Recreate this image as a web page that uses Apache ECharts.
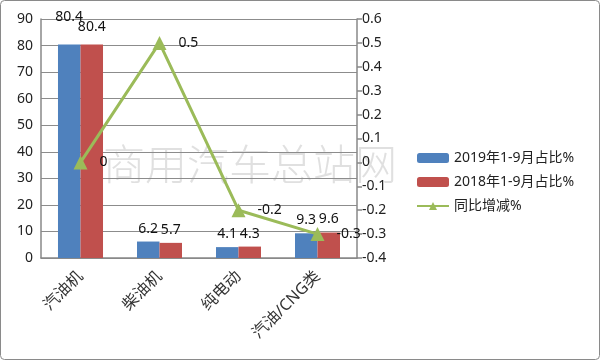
<!DOCTYPE html>
<html><head><meta charset="utf-8">
<script src="https://cdn.jsdelivr.net/npm/echarts@6/dist/echarts.min.js"></script>
<style>html,body{margin:0;padding:0;background:#fff}#c{width:600px;height:360px}</style>
</head><body><div id="c"></div>
<script>
const categories = ['汽油机', '柴油机', '纯电动', '汽油/CNG类'];
const share2019 = [80.4, 6.2, 4.1, 9.3];
const share2018 = [80.4, 5.7, 4.3, 9.6];
const yoyChange = [0, 0.5, -0.2, -0.3];
const seriesNames = ['2019年1-9月占比%', '2018年1-9月占比%', '同比增减%'];

const FONT = '"Noto Sans", "Noto Sans CJK SC", sans-serif';
const chart = echarts.init(document.getElementById('c'));
chart.setOption({
  animation: false,
  textStyle: { fontFamily: FONT },
  graphic: [
    { type: 'rect', shape: { x: 0.5, y: 0.5, width: 599, height: 359, r: 4 }, style: { fill: 'none', stroke: '#8a8a8a', lineWidth: 1 }, z: 100 },
    { type: 'text', left: 103, top: 143, z: 0, style: { text: '商用汽车总站网', font: '200 42px "Noto Sans CJK SC"', fill: '#e0e0e0' } }
  ],
  legend: {
    orient: 'vertical', left: 411, top: 146, itemWidth: 32, itemHeight: 10, itemGap: 10,
    textStyle: { fontSize: 14, color: '#222', fontFamily: FONT },
    data: seriesNames
  },
  grid: { left: 41, right: 243, top: 19, bottom: 102 },
  xAxis: {
    type: 'category', data: categories,
    axisLine: { lineStyle: { color: '#888', width: 1.5 } },
    axisTick: { length: 6, lineStyle: { color: '#888', width: 1.5 } },
    axisLabel: { rotate: 45, fontSize: 16, color: '#333', margin: 16, fontFamily: FONT }
  },
  yAxis: [
    {
      type: 'value', min: 0, max: 90, interval: 10,
      axisLine: { show: true, lineStyle: { color: '#888', width: 1.5 } },
      axisTick: { show: false },
      axisLabel: { fontSize: 14, color: '#222', margin: 8 },
      splitLine: { lineStyle: { color: '#8c8c8c', width: 1.2 } }
    },
    {
      type: 'value', min: -0.4, max: 0.6, interval: 0.1,
      axisLine: { show: true, lineStyle: { color: '#888', width: 1.5 } },
      axisTick: { show: true, length: 5, lineStyle: { color: '#888', width: 1.5 } },
      axisLabel: { fontSize: 14, color: '#222', margin: 5, formatter: v => Number(v.toFixed(1)).toString() },
      splitLine: { show: false }
    }
  ],
  series: [
    {
      name: seriesNames[0], type: 'bar', barGap: '0%', barCategoryGap: '43%',
      itemStyle: { color: '#4F81BD' },
      label: { show: true, position: 'top', fontSize: 14, color: '#111', distance: 6 },
      data: share2019.map((v, i) => i === 0 ? { value: v, label: { distance: 20 } } : v)
    },
    {
      name: seriesNames[1], type: 'bar',
      itemStyle: { color: '#C0504D' },
      label: { show: true, position: 'top', fontSize: 14, color: '#111', distance: 6 },
      data: share2018.map((v, i) => i === 0 ? { value: v, label: { distance: 10 } } : v)
    },
    {
      name: seriesNames[2], type: 'line', yAxisIndex: 1,
      symbol: 'triangle', symbolSize: 14,
      lineStyle: { color: '#9BBB59', width: 3 },
      itemStyle: { color: '#9BBB59' },
      label: { show: true, position: 'right', distance: 12, fontSize: 14, color: '#111' },
      data: yoyChange, z: 5
    }
  ]
});
</script></body></html>
